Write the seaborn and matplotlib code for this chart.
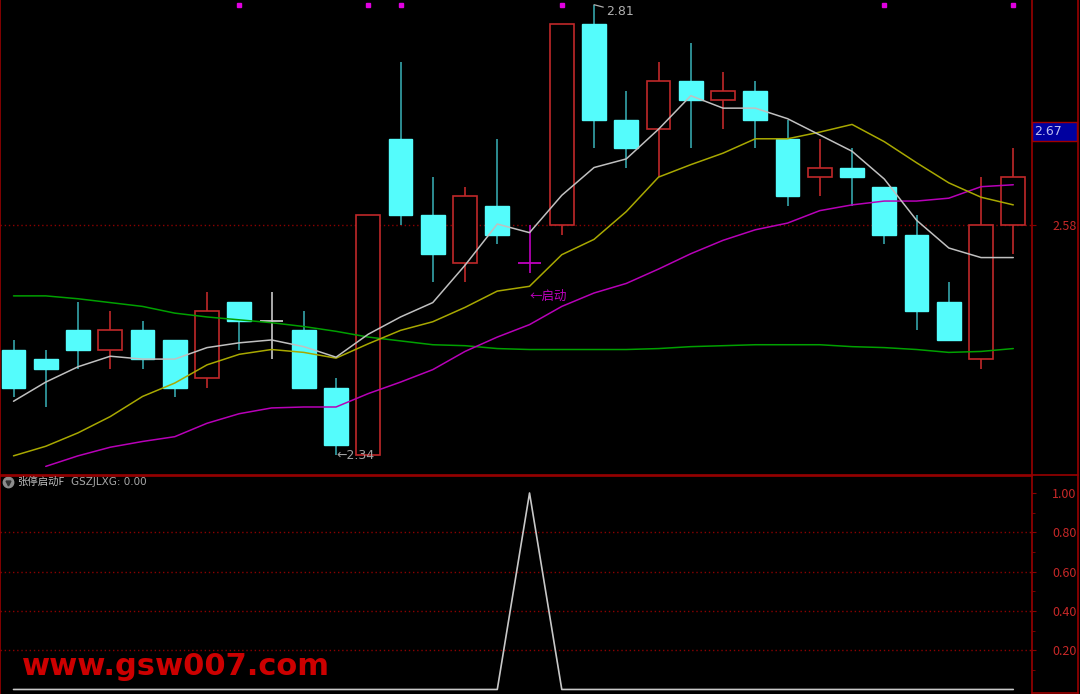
import numpy as np
import pandas as pd
import matplotlib
matplotlib.use('Agg')
import matplotlib.pyplot as plt
import matplotlib.transforms as mtransforms
from matplotlib.lines import Line2D
from matplotlib.patches import Rectangle
import seaborn as sns

# daily candles (price)
opens = [2.45, 2.44, 2.47, 2.45, 2.47, 2.46, 2.42, 2.50, 2.48, 2.47, 2.41, 2.34, 2.67, 2.59, 2.54, 2.60,
         2.54, 2.58, 2.79, 2.69, 2.68, 2.73, 2.71, 2.72, 2.67, 2.63, 2.64, 2.62, 2.57, 2.50, 2.44, 2.58]
highs = [2.46, 2.45, 2.50, 2.49, 2.48, 2.46, 2.51, 2.50, 2.51, 2.49, 2.42, 2.59, 2.75, 2.63, 2.62, 2.67,
         2.58, 2.79, 2.81, 2.72, 2.75, 2.77, 2.74, 2.73, 2.69, 2.67, 2.66, 2.62, 2.59, 2.52, 2.63, 2.66]
lows = [2.40, 2.39, 2.43, 2.43, 2.43, 2.40, 2.41, 2.45, 2.44, 2.41, 2.34, 2.34, 2.58, 2.52, 2.52, 2.56,
        2.53, 2.57, 2.66, 2.64, 2.63, 2.66, 2.68, 2.66, 2.60, 2.61, 2.60, 2.56, 2.47, 2.46, 2.43, 2.55]
closes = [2.41, 2.43, 2.45, 2.47, 2.44, 2.41, 2.49, 2.48, 2.48, 2.41, 2.35, 2.59, 2.59, 2.55, 2.61, 2.57,
          2.54, 2.79, 2.69, 2.66, 2.73, 2.71, 2.72, 2.69, 2.61, 2.64, 2.63, 2.57, 2.49, 2.46, 2.58, 2.63]

# moving averages
ma_white = [2.396, 2.416, 2.432, 2.443, 2.440, 2.440, 2.452, 2.457, 2.460, 2.453, 2.442, 2.466, 2.484, 2.499,
            2.538, 2.581, 2.572, 2.611, 2.640, 2.649, 2.680, 2.715, 2.702, 2.702, 2.691, 2.674, 2.657, 2.628,
            2.585, 2.556, 2.546, 2.546]
ma_yellow = [2.339, 2.349, 2.363, 2.380, 2.401, 2.415, 2.434, 2.445, 2.450, 2.447, 2.441, 2.456, 2.470, 2.479,
             2.494, 2.511, 2.516, 2.549, 2.565, 2.594, 2.630, 2.643, 2.655, 2.670, 2.670, 2.677, 2.685, 2.667,
             2.645, 2.624, 2.609, 2.601]
ma_magenta = [np.nan, 2.328, 2.339, 2.348, 2.354, 2.359, 2.373, 2.383, 2.389, 2.390, 2.390, 2.404, 2.416, 2.429,
              2.448, 2.463, 2.476, 2.495, 2.509, 2.519, 2.534, 2.550, 2.564, 2.575, 2.582, 2.595, 2.601, 2.605,
              2.605, 2.608, 2.620, 2.622]
ma_green = [2.506, 2.506, 2.503, 2.499, 2.495, 2.488, 2.484, 2.481, 2.478, 2.474, 2.469, 2.463, 2.459, 2.455,
            2.454, 2.451, 2.450, 2.450, 2.450, 2.450, 2.451, 2.453, 2.454, 2.455, 2.455, 2.455, 2.453, 2.452,
            2.450, 2.447, 2.448, 2.451]

# indicator GSZJLXG
signal = [0] * 16 + [1] + [0] * 15

# magenta marks along the top
dot_idx = [7, 11, 12, 17, 27, 31]

price_ticks = [2.58]
cursor_price = 2.67
ind_ticks = [0.2, 0.4, 0.6, 0.8, 1.0]

df = pd.DataFrame({'open': opens, 'high': highs, 'low': lows, 'close': closes,
                   'ma5': ma_white, 'ma10': ma_yellow, 'ma20': ma_magenta, 'ma60': ma_green,
                   'sig': signal})
df['i'] = np.arange(len(df))

sns.set_style('dark', {'axes.facecolor': 'black', 'figure.facecolor': 'black'})
plt.rcParams['font.family'] = ['Noto Sans CJK SC', 'DejaVu Sans']

RED = '#c0282a'
CYAN = '#54fcfc'
CYAN_WICK = '#34a4aa'
BORDER = '#990000'
GRID = '#8b0000'
LABEL = '#c82828'

fig = plt.figure(figsize=(10.8, 6.94), dpi=100, facecolor='black')
ax = fig.add_axes([0, 219 / 694, 1032 / 1080, 475 / 694])
ax2 = fig.add_axes([0, 0, 1032 / 1080, 218 / 694])

w = 0.74
for _, r in df.iterrows():
    i = r['i']
    lo_b, hi_b = min(r['open'], r['close']), max(r['open'], r['close'])
    if r['sig'] == 1:
        col = '#c000c0'
        wick = col
    elif r['close'] == r['open']:
        col = '#c8c8c8'
        wick = col
    elif r['close'] > r['open']:
        col = RED
        wick = RED
    else:
        col = CYAN
        wick = CYAN_WICK
    ax.vlines(i, r['low'], r['high'], color=wick, lw=1.2, zorder=1)
    if hi_b == lo_b:
        ax.hlines(lo_b, i - w / 2, i + w / 2, color=col, lw=1.3, zorder=2)
    elif r['close'] > r['open']:
        ax.bar(i, hi_b - lo_b, bottom=lo_b, width=w, facecolor='black', edgecolor=col, lw=1.2, zorder=2)
    else:
        ax.bar(i, hi_b - lo_b, bottom=lo_b, width=w, facecolor=col, edgecolor=col, lw=1.0, zorder=2)

sns.lineplot(data=df, x='i', y='ma60', color='#00a000', lw=1.1, ax=ax, zorder=3)
sns.lineplot(data=df, x='i', y='ma20', color='#b800b8', lw=1.1, ax=ax, zorder=3)
sns.lineplot(data=df, x='i', y='ma10', color='#a8a800', lw=1.1, ax=ax, zorder=3)
sns.lineplot(data=df, x='i', y='ma5', color='#c0c0c0', lw=1.1, ax=ax, zorder=3)

for p in price_ticks:
    ax.axhline(p, color=GRID, lw=1, ls=(0, (1, 2)), zorder=0)

blend = mtransforms.blended_transform_factory(ax.transData, ax.transAxes)
ax.plot(dot_idx, [0.99] * len(dot_idx), 's', ms=2.5, color='#e000e0', transform=blend, clip_on=False)

hi_i = int(df['high'].idxmax())
ax.annotate(f"{df['high'].max():.2f}", xy=(hi_i, df['high'].max()), xytext=(9, -5),
            textcoords='offset points', color='#b0b0b0', fontsize=9, va='center', ha='left',
            family='DejaVu Sans',
            arrowprops=dict(arrowstyle='-', color='#b0b0b0', lw=0.9, shrinkA=0, shrinkB=0))
lo_i = int(df['low'].idxmin())
ax.text(lo_i, df['low'].min() - 0.001, f"\u2190{df['low'].min():.2f}", color='#a0a0a0', fontsize=9,
        va='center', ha='left', family='DejaVu Sans')
sig_i = int(df['sig'].idxmax())
ax.text(sig_i, df['low'][sig_i] - 0.025, '\u2190启动', color='#c000c0', fontsize=9, va='center', ha='left')

ax.set_xlim(-0.419, 31.58)
ax.set_ylim(2.319, 2.8149)
ax.set_xticks([])
ax.set_xlabel('')
ax.set_ylabel('')
ax.yaxis.tick_right()
ax.set_yticks(price_ticks)
ax.set_yticklabels([f'{p:.2f}' for p in price_ticks])
ax.tick_params(axis='y', colors=GRID, labelcolor=LABEL, length=3, pad=11.5, labelsize=9, direction='out')
for s in ['left', 'right', 'bottom']:
    ax.spines[s].set_visible(True)
    ax.spines[s].set_color(BORDER)
    ax.spines[s].set_linewidth(1.2)
ax.spines['top'].set_visible(False)

# current price box on the right scale
bl2 = mtransforms.blended_transform_factory(ax.transAxes, ax.transData)
ax.add_patch(Rectangle((1.0, cursor_price - 0.002), 45 / 1032, 0.0195, transform=bl2, clip_on=False,
                       facecolor='#0000a0', edgecolor='#a00000', lw=1, zorder=5))
ax.text(1.0 + 2 / 1032, cursor_price + 0.0078, f'{cursor_price:.2f}', transform=bl2, color='#c0c0f0',
        fontsize=9, va='center', ha='left', family='DejaVu Sans', zorder=6)

# lower indicator panel
sns.lineplot(data=df, x='i', y='sig', color='#c8c8c8', lw=1.2, ax=ax2)
for t in ind_ticks[:-1]:
    ax2.axhline(t, color=GRID, lw=1, ls=(0, (1, 2)), zorder=0)
ax2.set_xlim(-0.419, 31.58)
ax2.set_ylim(-0.023, 1.0865)
ax2.set_xticks([])
ax2.set_xlabel('')
ax2.set_ylabel('')
ax2.yaxis.tick_right()
ax2.set_yticks(ind_ticks)
ax2.set_yticklabels([f'{t:.2f}' for t in ind_ticks])
ax2.set_yticks([0.1, 0.3, 0.5, 0.7, 0.9], minor=True)
ax2.tick_params(axis='y', which='major', colors=GRID, labelcolor=LABEL, length=3, pad=11.5, labelsize=9)
ax2.tick_params(axis='y', which='minor', colors=GRID, length=2)
for s in ['left', 'right', 'top']:
    ax2.spines[s].set_visible(True)
    ax2.spines[s].set_color(BORDER)
    ax2.spines[s].set_linewidth(1.2)
ax2.spines['bottom'].set_visible(False)

# right scale frame
fig.add_artist(Line2D([1078 / 1080] * 2, [0, 1], transform=fig.transFigure, color=BORDER, lw=1.2))
fig.add_artist(Line2D([1032 / 1080, 1078 / 1080], [219 / 694] * 2, transform=fig.transFigure, color=BORDER, lw=1.2))
fig.add_artist(Line2D([1032 / 1080, 1078 / 1080], [1.5 / 694] * 2, transform=fig.transFigure, color=BORDER, lw=1.2))

# panel header
ax2.plot([8 / 1032], [1 - 6 / 218], 'o', ms=7.5, color='#8c8c8c', transform=ax2.transAxes, clip_on=False)
ax2.plot([8 / 1032], [1 - 6.5 / 218], 'v', ms=3.5, color='#303030', transform=ax2.transAxes, clip_on=False)
fig.text(17 / 1080, (694 - 482) / 694, '张停启动F', color='#c0c0c0', fontsize=7.5, va='center', ha='left')
fig.text(71 / 1080, (694 - 482) / 694, 'GSZJLXG: 0.00', color='#a8a8a8', fontsize=7.5, va='center', ha='left',
         family='DejaVu Sans')

# watermark
fig.text(22 / 1080, (694 - 675) / 694, 'www.gsw007.com', color='#cc0000', fontsize=22, fontweight='bold',
         va='baseline', ha='left', family='DejaVu Sans')

fig.savefig('out.png', dpi=100, facecolor='black')
